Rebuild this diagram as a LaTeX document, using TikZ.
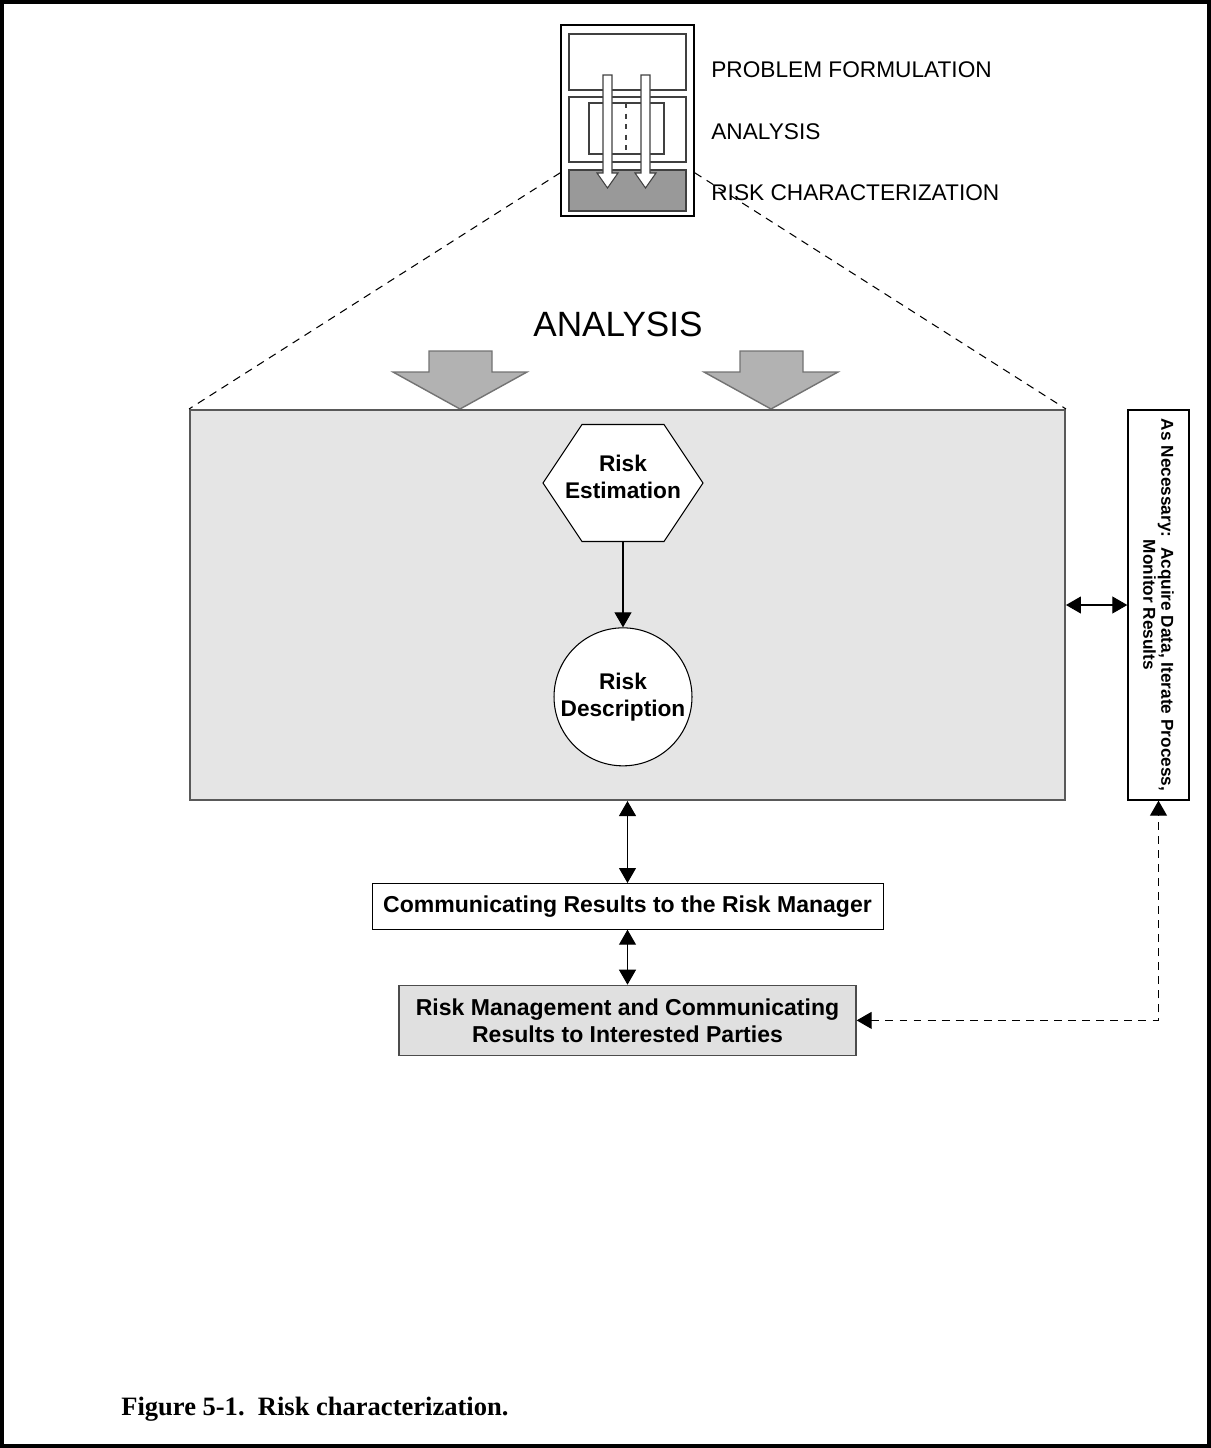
\documentclass[tikz,border=0pt]{standalone}
\usepackage{fontspec}
\setmainfont{Liberation Serif}
\setsansfont{Liberation Sans}
\usetikzlibrary{arrows.meta, positioning}

\begin{document}
\begin{tikzpicture}[
    x=0.02cm, y=-0.02cm,
    node distance=1cm and 1cm,
    iconlbl/.style = {anchor=base west, inner sep=0pt, font=\sffamily\fontsize{12.9}{15}\selectfont},
    phase/.style = {draw=black!75, line width=0.6pt},
    bigarrow/.style = {draw=black!55, fill=black!30, line width=0.8pt},
    analysis/.style = {rectangle, draw=black!65, fill=black!10, line width=1.2pt, minimum width=17.5cm, minimum height=7.8cm},
    hexa/.style = {rectangle, inner sep=0pt, minimum width=3.2cm, minimum height=2.34cm, align=center, font=\sffamily\bfseries\fontsize{12.9}{15.6}\selectfont},
    hexline/.style = {draw=black, fill=white, line width=0.6pt},
    desc/.style = {circle, draw, fill=white, line width=0.6pt, inner sep=0pt, minimum size=2.76cm, align=center, font=\sffamily\bfseries\fontsize{12.9}{15.6}\selectfont},
    process/.style = {rectangle, draw, align=center, inner sep=0pt, font=\sffamily\bfseries\fontsize{13.1}{15.4}\selectfont},
    side/.style = {rectangle, draw, line width=0.8pt, rotate=-90, inner sep=0pt, minimum width=7.8cm, minimum height=1.22cm, align=center, font=\sffamily\bfseries\fontsize{9.8}{8.4}\selectfont},
    link/.style = {line width=0.6pt},
    loop/.style = {line width=0.6pt, dash pattern=on 4.5pt off 3.5pt},
    >={Triangle[length=0.3cm, width=0.34cm]}]

    \useasboundingbox (0,0) rectangle (1211,1448);
    \draw[line width=2.3pt] (2,2) rectangle (1209,1446);

    \node[draw, line width=0.9pt, inner sep=0pt, minimum width=2.66cm, minimum height=3.82cm] (icon) at (627.5,120.5) {};
    \draw[phase] (569,34) rectangle (686,90);
    \draw[phase] (569,97) rectangle (686,162);
    \draw[phase] (589,103) rectangle (664,154);
    \draw[phase, dashed] (626,103) -- (626,154);
    \draw[phase, fill=black!40] (569,170) rectangle (686,211);
    \foreach \ax in {607.5,645.5}
        \draw[phase, fill=white] (\ax-4.5,75) -- (\ax+4.5,75) -- (\ax+4.5,173) -- (\ax+10.5,173)
            -- (\ax,188) -- (\ax-10.5,173) -- (\ax-4.5,173) -- cycle;

    \node[iconlbl] (pf) at (711,77) {PROBLEM FORMULATION};
    \node[iconlbl] (an) at (711,139) {ANALYSIS};
    \node[iconlbl] (rc) at (711,200) {RISK CHARACTERIZATION};

    \node[font=\sffamily\fontsize{20}{24}\selectfont, anchor=base, inner sep=0pt] (title) at (618,336) {ANALYSIS};
    \foreach \ax in {460,771}
        \draw[bigarrow] (\ax-31,351) -- (\ax+32,351) -- (\ax+32,372) -- (\ax+67,372)
            -- (\ax,409) -- (\ax-67,372) -- (\ax-31,372) -- cycle;

    \node[analysis] (ana) at (627.5,605) {};
    \coordinate (estc) at (623,483);
    \draw[hexline] (estc) ++(-80,0) -- ++(39,-58.5) -- ++(82,0) -- ++(39,58.5) -- ++(-39,58.5) -- ++(-82,0) -- cycle;
    \node[hexa] (est) at (estc) {Risk\\Estimation\rule[-7pt]{0pt}{0pt}};
    \node[desc, below=1.71cm of est] (desc) {Risk\\Description};
    \node[side] (nec) at (1158.5,605) {As Necessary:\ \ Acquire Data, Iterate Process,\\Monitor Results};

    \node[process, minimum width=10.22cm, minimum height=0.92cm, below=1.64cm of ana] (comm) {Communicating Results to the Risk Manager};
    \node[process, draw=black!70, fill=black!12, line width=0.8pt, minimum width=9.14cm, minimum height=1.4cm, below=1.1cm of comm] (mgmt) {Risk Management and Communicating\\Results to Interested Parties};

    \node[anchor=base west, inner sep=0pt, font=\bfseries\fontsize{15.1}{18}\selectfont] (caption) at (121,1415) {Figure 5-1.\ \ Risk characterization.};

    \draw[loop] ([yshift=0.88cm]icon.south west) -- (ana.north west);
    \draw[loop] ([yshift=0.88cm]icon.south east) -- (ana.north east);
    \draw[link, ->] (est) -- (desc);
    \draw[link, <->] (ana) -- (comm);
    \draw[link, <->] (comm) -- (mgmt);
    \draw[link, <->] (ana.east) -- (nec.south);
    \draw[loop, <->] (mgmt.east) -| (nec.east);

\end{tikzpicture}
\end{document}
